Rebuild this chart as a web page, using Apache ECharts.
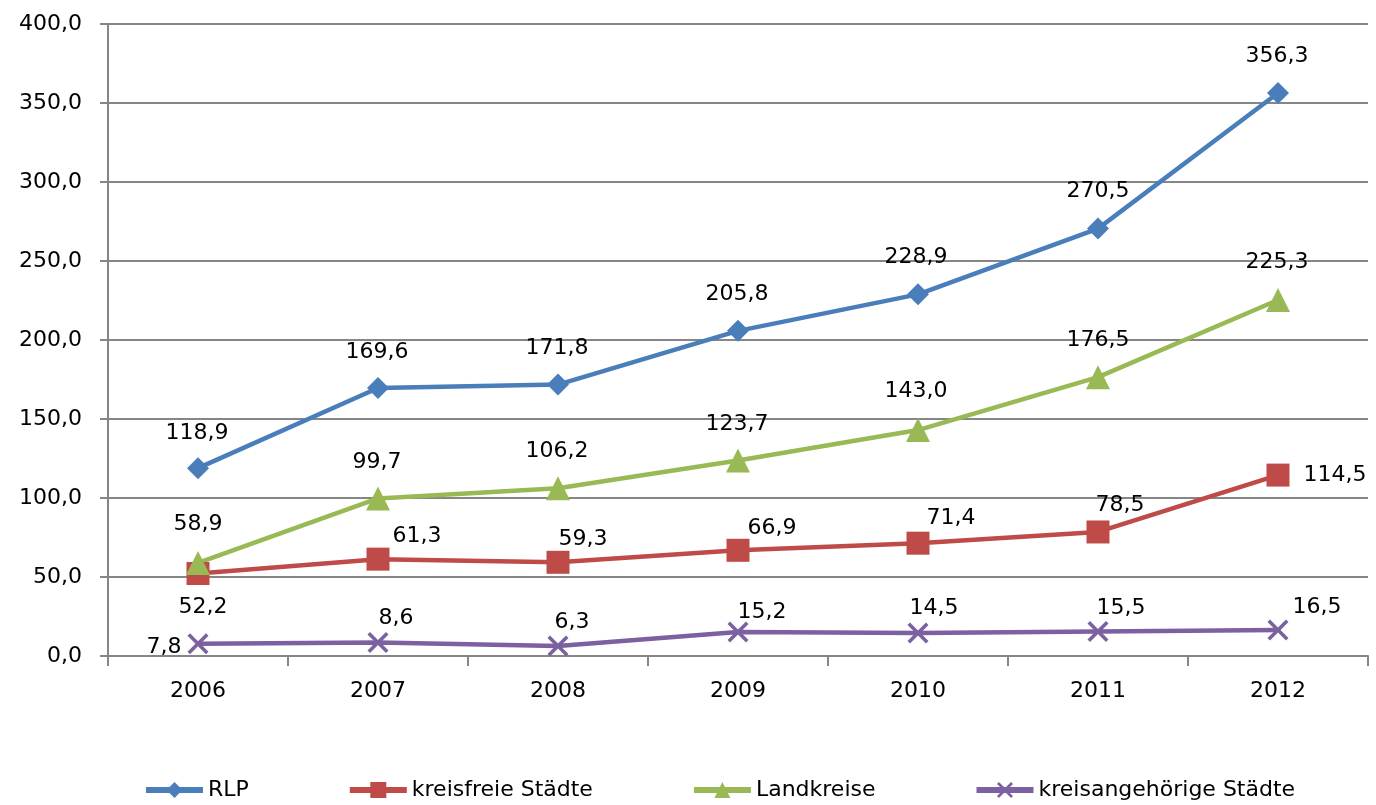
<!DOCTYPE html>
<html>
<head>
<meta charset="utf-8">
<script src="https://cdn.jsdelivr.net/npm/echarts@6/dist/echarts.min.js"></script>
<style>html,body{margin:0;padding:0;background:#fff}#c{width:1376px;height:805px}</style>
</head>
<body>
<div id="c"></div>
<script>
const categories = ['2006','2007','2008','2009','2010','2011','2012'];
const rlp = [118.9, 169.6, 171.8, 205.8, 228.9, 270.5, 356.3];
const kreisfreie = [52.2, 61.3, 59.3, 66.9, 71.4, 78.5, 114.5];
const landkreise = [58.9, 99.7, 106.2, 123.7, 143.0, 176.5, 225.3];
const kreisangehoerige = [7.8, 8.6, 6.3, 15.2, 14.5, 15.5, 16.5];
const seriesNames = ['RLP', 'kreisfreie Städte', 'Landkreise', 'kreisangehörige Städte'];

// label offsets [dx, dy] relative to point (label centred on point)
const offRlp = [[-1,-35],[-1,-36],[-1,-36],[-1,-37],[-2,-37],[0,-37],[-1,-37]];
const offKf = [[5,34],[39,-23],[25,-23],[34,-22],[33,-25],[22,-27],[57,0]];
const offLk = [[0,-39],[-1,-36],[-1,-37],[-1,-36],[-2,-39],[0,-37],[-1,-38]];
const offKa = [[-34,4],[18,-24],[14,-24],[24,-20],[16,-25],[23,-23],[39,-23]];

const fmt = v => v.toFixed(1).replace('.', ',');
const FONT = '"DejaVu Sans", Verdana, sans-serif';

function mk(name, data, offs, color, symbol, size) {
  return {
    name: name, type: 'line', data: data.map((v, i) => ({
      value: v,
      label: { offset: offs[i] }
    })),
    symbol: symbol, symbolSize: size,
    lineStyle: { color: color, width: 4.5 },
    itemStyle: { color: color },
    label: {
      show: true, position: 'inside', color: '#000', fontSize: 22, fontFamily: FONT,
      formatter: p => fmt(p.value)
    },
    emphasis: { disabled: true },
    animation: false, z: 3
  };
}

const xPath = 'path://M0,1.2L1.2,0L5,3.8L8.8,0L10,1.2L6.2,5L10,8.8L8.8,10L5,6.2L1.2,10L0,8.8L3.8,5Z';

const chart = echarts.init(document.getElementById('c'));
chart.setOption({
  backgroundColor: '#fff',
  animation: false,
  grid: { left: 108, right: 8, top: 24, bottom: 149, containLabel: false },
  xAxis: {
    type: 'category', data: categories, boundaryGap: true,
    axisLine: { lineStyle: { color: '#868686', width: 2 } },
    axisTick: { show: true, length: 10, lineStyle: { color: '#868686', width: 2 } },
    axisLabel: { color: '#000', fontSize: 22, fontFamily: FONT, margin: 24 }
  },
  yAxis: {
    type: 'value', min: 0, max: 400, interval: 50,
    axisLine: { show: true, lineStyle: { color: '#868686', width: 2 } },
    axisTick: { show: true, length: 8, lineStyle: { color: '#868686', width: 2 } },
    splitLine: { lineStyle: { color: '#868686', width: 2 } },
    axisLabel: { color: '#000', fontSize: 22, fontFamily: FONT, margin: 26, formatter: v => fmt(v) }
  },
  legend: {
    top: 774, left: 138, itemWidth: 57, itemHeight: 20, itemGap: 98,
    lineStyle: { width: 6 },
    textStyle: { color: '#000', fontSize: 22, fontFamily: FONT },
    data: seriesNames
  },
  series: [
    mk(seriesNames[0], rlp, offRlp, '#4a7ebb', 'diamond', 22),
    mk(seriesNames[1], kreisfreie, offKf, '#be4b48', 'rect', 23),
    mk(seriesNames[2], landkreise, offLk, '#98b954', 'triangle', 24),
    mk(seriesNames[3], kreisangehoerige, offKa, '#7d60a0', xPath, 21)
  ]
});
</script>
</body>
</html>
